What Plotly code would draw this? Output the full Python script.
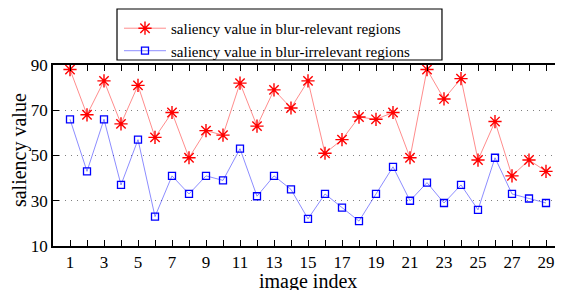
import plotly.graph_objects as go

image_index = list(range(1, 30))
relevant = [88, 68, 83, 64, 81, 58, 69, 49, 61, 59, 82, 63, 79, 71, 83, 51, 57, 67, 66, 69,
            49, 88, 75, 84, 48, 65, 41, 48, 43]
irrelevant = [66, 43, 66, 37, 57, 23, 41, 33, 41, 39, 53, 32, 41, 35, 22, 33, 27, 21, 33, 45,
              30, 38, 29, 37, 26, 49, 33, 31, 29]
x_ticktext = [str(i) if i % 2 == 1 else "" for i in image_index]
y_ticks = [10, 30, 50, 70, 90]
x_title = "image index"
y_title = "saliency value"

fig = go.Figure()
fig.add_trace(go.Scatter(
    x=image_index, y=relevant, mode="lines+markers",
    name="saliency value in blur-relevant regions",
    line=dict(color="rgba(255,0,0,0.45)", width=1),
    marker=dict(symbol="asterisk-open", size=11, color="red", line=dict(color="red", width=1.4)),
))
fig.add_trace(go.Scatter(
    x=image_index, y=irrelevant, mode="lines+markers",
    name="saliency value in blur-irrelevant regions",
    line=dict(color="rgba(0,0,255,0.45)", width=1),
    marker=dict(symbol="square-open", size=7, color="blue", line=dict(color="blue", width=1.3)),
))

# legend frame
fig.add_shape(type="rect", xref="paper", yref="paper",
              x0=0.1255, x1=0.7627, y0=1.0276, y1=1.3094,
              line=dict(color="black", width=1.2), fillcolor="rgba(0,0,0,0)")

font = "Liberation Serif, Times New Roman, serif"

# axis titles
fig.add_annotation(text=x_title, xref="paper", yref="paper", x=0.5, y=-0.195,
                   xanchor="center", yanchor="middle", showarrow=False,
                   font=dict(family=font, size=20, color="black"))
fig.add_annotation(text=y_title, xref="paper", yref="paper", x=-0.0667, y=0.53,
                   xanchor="center", yanchor="middle", showarrow=False, textangle=-90,
                   font=dict(family=font, size=20, color="black"))

fig.update_layout(
    width=555, height=282,
    margin=dict(l=45, r=0, t=57, b=44, autoexpand=False),
    paper_bgcolor="white", plot_bgcolor="white",
    font=dict(family=font, color="black"),
    showlegend=True,
    legend=dict(
        x=0.1294, y=1.293, xanchor="left", yanchor="top",
        bgcolor="rgba(0,0,0,0)", borderwidth=0,
        font=dict(family=font, size=15, color="black"),
        tracegroupgap=0, itemwidth=42,
    ),
    xaxis=dict(
        range=[0, 30], tickvals=image_index, ticktext=x_ticktext,
        ticks="inside", ticklen=6, tickcolor="black", tickwidth=1,
        showline=True, linecolor="black", linewidth=1.5, mirror="ticks",
        showgrid=False, zeroline=False, automargin=False,
        tickfont=dict(family=font, size=17),
    ),
    yaxis=dict(
        range=[10, 90], tickvals=y_ticks,
        ticks="inside", ticklen=6, tickcolor="black", tickwidth=1,
        showline=True, linecolor="black", linewidth=1.5, mirror="ticks",
        showgrid=True, gridcolor="#808080", griddash="1px,5px", gridwidth=1, zeroline=False,
        automargin=False,
        tickfont=dict(family=font, size=17),
    ),
)

fig.write_html("out.html")
